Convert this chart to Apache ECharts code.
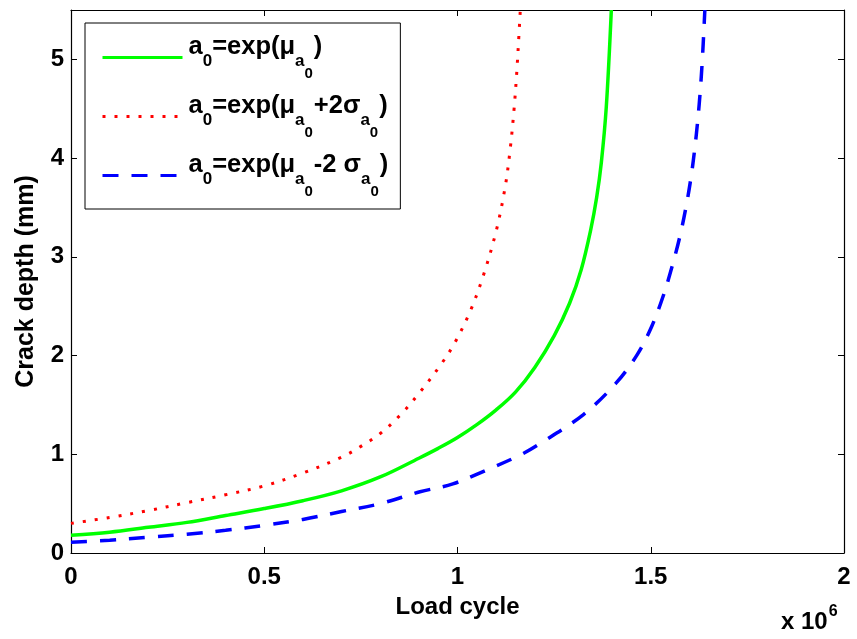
<!DOCTYPE html>
<html>
<head>
<meta charset="utf-8">
<script src="https://cdn.jsdelivr.net/npm/echarts@6/dist/echarts.min.js"></script>
<style>
  html, body { margin: 0; padding: 0; background: #fff; }
  #chart { width: 857px; height: 639px; }
</style>
</head>
<body>
<div id="chart"></div>
<script>
// Load cycle in units of 10^6, crack depth in mm
const meanX = [0, 0.1, 0.2, 0.3, 0.4, 0.5, 0.6, 0.7, 0.8, 0.9, 0.95, 1.0, 1.05, 1.1, 1.15, 1.2, 1.25, 1.29, 1.32, 1.345, 1.36, 1.372, 1.385, 1.398];
const meanY = [0.18, 0.21, 0.26, 0.31, 0.38, 0.45, 0.53, 0.63, 0.77, 0.96, 1.06, 1.17, 1.30, 1.45, 1.63, 1.88, 2.20, 2.53, 2.87, 3.28, 3.60, 3.95, 4.52, 5.5];

const upperX = [0, 0.1, 0.2, 0.3, 0.4, 0.5, 0.6, 0.7, 0.75, 0.8, 0.85, 0.903, 0.959, 0.993, 1.032, 1.066, 1.100, 1.123, 1.136, 1.146, 1.153, 1.159, 1.1625];
const upperY = [0.30, 0.36, 0.43, 0.51, 0.59, 0.68, 0.81, 0.97, 1.08, 1.21, 1.39, 1.63, 1.92, 2.13, 2.44, 2.80, 3.26, 3.70, 4.08, 4.48, 4.85, 5.25, 5.5];

const lowerX = [0, 0.1, 0.2, 0.3, 0.4, 0.5, 0.6, 0.7, 0.8, 0.903, 0.988, 1.075, 1.161, 1.21, 1.325, 1.41, 1.465, 1.503, 1.532, 1.555, 1.575, 1.591, 1.604, 1.614, 1.622, 1.6285, 1.6335, 1.6375, 1.640];
const lowerY = [0.11, 0.13, 0.16, 0.19, 0.23, 0.28, 0.34, 0.42, 0.50, 0.62, 0.70, 0.84, 0.99, 1.10, 1.40, 1.72, 2.01, 2.30, 2.60, 2.90, 3.20, 3.50, 3.80, 4.10, 4.40, 4.70, 5.00, 5.30, 5.5];

const xTicks = [0, 0.5, 1, 1.5, 2];
const yTicks = [0, 1, 2, 3, 4, 5];

const seriesNames = ['mean', 'upper', 'lower'];
const legendTexts = {
  mean:  '{f|a}{s|0}{b|=exp(μ}{s|a}{ss|0}{b|)}',
  upper: '{f|a}{s|0}{b|=exp(μ}{s|a}{ss|0}{b|+2σ}{s|a}{ss|0}{b|)}',
  lower: '{f|a}{s|0}{b|=exp(μ}{s|a}{ss|0}{b|-2 σ}{s|a}{ss|0}{b|)}'
};

const zip = (xs, ys) => xs.map((x, i) => [x, ys[i]]);

const FONT = '"Liberation Sans", Arial, Helvetica, sans-serif';

const chart = echarts.init(document.getElementById('chart'), null, { renderer: 'canvas' });

const axisCommon = {
  type: 'value',
  axisLine: { show: true, onZero: false, lineStyle: { color: '#000', width: 1.2 } },
  axisTick: { show: true, inside: true, length: 6, lineStyle: { color: '#000', width: 1 } },
  splitLine: { show: false }
};

const txt = (size, pad) => ({
  fontSize: size, fontFamily: FONT, fontWeight: 'bold', color: '#000',
  verticalAlign: 'top', padding: pad
});

chart.setOption({
  animation: false,
  backgroundColor: '#fff',
  grid: { left: 71, right: 13, top: 10, bottom: 86, containLabel: false },
  xAxis: [
    Object.assign({}, axisCommon, {
      position: 'bottom', min: 0, max: 2, interval: 0.5,
      axisTick: Object.assign({}, axisCommon.axisTick, { customValues: xTicks }),
      axisLabel: {
        customValues: xTicks, color: '#000', fontFamily: FONT, fontWeight: 'bold', fontSize: 24, margin: 12,
        formatter: v => String(v)
      },
      name: 'Load cycle', nameLocation: 'middle', nameGap: 42,
      nameTextStyle: { color: '#000', fontFamily: FONT, fontWeight: 'bold', fontSize: 24 }
    }),
    Object.assign({}, axisCommon, {
      position: 'top', min: 0, max: 2, interval: 0.5,
      axisTick: Object.assign({}, axisCommon.axisTick, { customValues: xTicks }),
      axisLabel: { show: false }
    })
  ],
  yAxis: [
    Object.assign({}, axisCommon, {
      position: 'left', min: 0, max: 5.5, interval: 1,
      axisTick: Object.assign({}, axisCommon.axisTick, { customValues: yTicks }),
      axisLabel: {
        customValues: yTicks, color: '#000', fontFamily: FONT, fontWeight: 'bold', fontSize: 24, margin: 7
      },
      name: 'Crack depth (mm)', nameLocation: 'middle', nameGap: 32,
      nameTextStyle: { color: '#000', fontFamily: FONT, fontWeight: 'bold', fontSize: 25 }
    }),
    Object.assign({}, axisCommon, {
      position: 'right', min: 0, max: 5.5, interval: 1,
      axisTick: Object.assign({}, axisCommon.axisTick, { customValues: yTicks }),
      axisLabel: { show: false }
    })
  ],
  legend: {
    orient: 'vertical',
    left: 85, top: 23,
    padding: [11, 12, 10, 16],
    itemGap: 12,
    itemWidth: 80, itemHeight: 14,
    backgroundColor: '#fff',
    borderColor: '#000', borderWidth: 1, borderRadius: 0,
    itemStyle: { opacity: 0 },
    lineStyle: { width: 3 },
    data: seriesNames,
    formatter: name => legendTexts[name],
    textStyle: {
      color: '#000', fontFamily: FONT, fontWeight: 'bold',
      rich: {
        f:  txt(25.5, [0, 0, 0, 1]),
        b:  txt(25.5, [0, 0, 0, 0]),
        s:  txt(17, [19, 0, 0, 0]),
        ss: txt(15, [32, 1, 0, 0])
      }
    }
  },
  graphic: [{
    type: 'text',
    left: 781, top: 604,
    style: {
      text: '{n|x 10}{p|6}',
      fill: '#000',
      rich: {
        n: { fontSize: 24, fontFamily: FONT, fontWeight: 'bold', fill: '#000', verticalAlign: 'top', padding: [6, 0, 0, 0] },
        p: { fontSize: 16, fontFamily: FONT, fontWeight: 'bold', fill: '#000', verticalAlign: 'top', padding: [0, 0, 0, 1] }
      }
    }
  }],
  series: [
    {
      name: 'mean', type: 'line', data: zip(meanX, meanY),
      symbol: 'none', smooth: 0.35,
      lineStyle: { color: '#00ff00', width: 3.5, type: 'solid' },
      itemStyle: { color: '#00ff00' }
    },
    {
      name: 'upper', type: 'line', data: zip(upperX, upperY),
      symbol: 'none', smooth: 0.35,
      lineStyle: { color: '#ff0000', width: 3, type: [3, 9], cap: 'butt' },
      itemStyle: { color: '#ff0000' }
    },
    {
      name: 'lower', type: 'line', data: zip(lowerX, lowerY),
      symbol: 'none', smooth: 0.35,
      lineStyle: { color: '#0000ff', width: 3.5, type: [16, 13], cap: 'butt' },
      itemStyle: { color: '#0000ff' }
    }
  ]
});
</script>
</body>
</html>
